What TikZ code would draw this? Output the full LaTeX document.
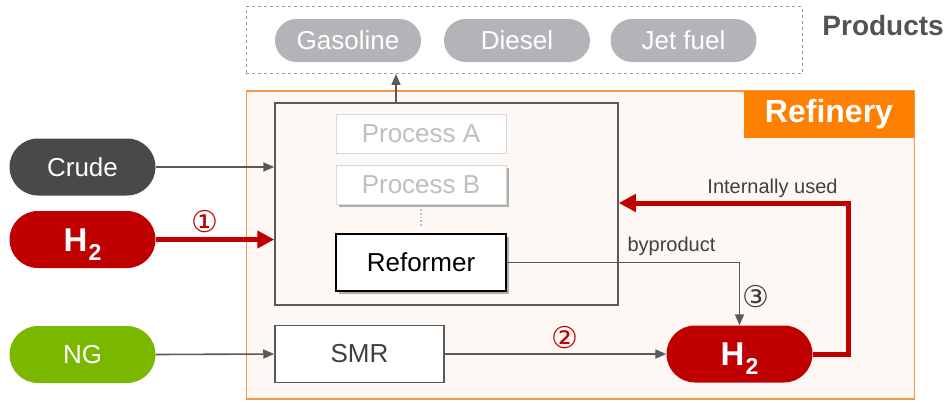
\documentclass[tikz,border=0pt]{standalone}
\usepackage{fontspec}
\setmainfont{Liberation Sans}
\newfontfamily\symfont{DejaVu Sans}
\usetikzlibrary{arrows.meta,shadows}
\definecolor{cream}{HTML}{FDF8F3}
\definecolor{orangeb}{HTML}{F79646}
\definecolor{orangel}{HTML}{FF7F00}
\definecolor{lineg}{HTML}{595959}
\definecolor{textg}{HTML}{404040}
\definecolor{crudec}{HTML}{48494B}
\definecolor{redc}{HTML}{C00000}
\definecolor{greenc}{HTML}{7AB800}
\definecolor{pillg}{HTML}{B3B4B7}
\definecolor{procg}{HTML}{D9D9D9}
\definecolor{proct}{HTML}{BFBFBF}
\newcommand{\Htwo}{\bfseries\fontsize{33}{36}\selectfont H\hspace{1pt}\raisebox{-9pt}{\fontsize{23}{24}\selectfont 2}}
\begin{document}
\begin{tikzpicture}[x=1pt,y=-1pt,
  pill/.style={rounded corners=28.5pt, minimum width=146pt, minimum height=57pt, inner sep=0pt, text=white, font=\fontsize{26}{30}\selectfont},
  prodpill/.style={fill=pillg, rounded corners=21.5pt, minimum width=146pt, minimum height=43pt, inner sep=0pt, text=white, font=\fontsize{26}{30}\selectfont},
  procbox/.style={draw=procg, fill=white, line width=1pt, minimum width=170pt, minimum height=39pt, inner sep=0pt, text=proct, font=\fontsize{26}{30}\selectfont},
  shad/.style={drop shadow={shadow xshift=2.5pt, shadow yshift=-2.5pt, opacity=0.3, fill=black}},
  arr/.style={draw=lineg, line width=1.6pt, -{Triangle[length=11pt,width=9pt]}},
  redarr/.style={draw=redc, line width=5pt, -{Triangle[length=17pt,width=17pt]}},
  lbl/.style={text=textg, font=\fontsize{20}{24}\selectfont, inner sep=0pt},
  num/.style={font=\symfont\fontsize{30}{32}\selectfont, inner sep=0pt}
]
\useasboundingbox (0,0) rectangle (948,402);
% refinery area
\node[draw=orangeb, fill=cream, line width=1.4pt, minimum width=668pt, minimum height=308pt, inner sep=0pt] (ref) at (580.5,245) {};
\node[fill=orangel, minimum width=170pt, minimum height=47pt, inner sep=0pt, text=white, font=\bfseries\fontsize{32}{36}\selectfont] (reflbl) at (829,114.5) {Refinery};
% products
\node[draw=gray!80, dashed, line width=0.9pt, minimum width=556pt, minimum height=67pt, inner sep=0pt] (prod) at (524,40) {};
\node[prodpill] (gas) at (348,40.5) {Gasoline};
\node[prodpill] (die) at (517,40.5) {Diesel};
\node[prodpill] (jet) at (683.5,40.5) {Jet fuel};
\node[text=textg!90, font=\bfseries\fontsize{28}{32}\selectfont, inner sep=0pt, anchor=east] (prodlbl) at (944,25) {Products};
% process box
\node[draw=lineg, fill=cream, line width=1.5pt, minimum width=343pt, minimum height=202pt, inner sep=0pt] (proc) at (446.5,204) {};
\node[procbox] (pa) at (421,133.5) {Process A};
\node[procbox, shad] (pb) at (421,185) {Process B};
\draw[draw=proct, line width=1.8pt, dotted] (pb.south) ++(0,4) coordinate (d1) -- (pa.south |- 0,227) coordinate (d2);
\node[procbox, draw=black, text=black, line width=1.4pt, minimum height=57pt, shad] (refm) at (421,262.5) {Reformer};
% SMR
\node[draw=lineg, fill=white, line width=1.5pt, minimum width=169pt, minimum height=57pt, inner sep=0pt, text=textg, font=\fontsize{26}{30}\selectfont] (smr) at (359.5,354) {SMR};
% inputs
\node[pill, fill=crudec] (crude) at (82.5,167) {Crude};
\node[pill, fill=redc] (h2l) at (82.5,239.5) {};
\node[text=white, inner sep=0pt, yshift=-5pt] (h2lt) at (h2l.center) {\Htwo};
\node[pill, fill=greenc] (ng) at (82.5,354.5) {NG};
% H2 right
\node[pill, fill=redc] (h2r) at (739.5,354) {};
\node[text=white, inner sep=0pt, yshift=-5pt] (h2rt) at (h2r.center) {\Htwo};
% connectors
\coordinate (upx) at (396,0);
\draw[arr] (proc.north -| upx) -- (prod.south -| upx);
\draw[arr] (crude.east) -- (proc.west |- crude.east);
\draw[redarr] (h2l.east) -- (proc.west |- h2l.east);
\draw[arr] (ng.east) -- (smr.west);
\draw[arr] (smr.east) -- (h2r.west);
\draw[arr] (refm.east) -| (h2r.north);
\coordinate (loop) at (848,203);
\draw[redarr] (h2r.east) -| (loop) -- (proc.east |- loop);
% labels
\node[num, text=redc] (n1) at (205,222) {①};
\node[num, text=redc] (n2) at (564.5,338) {②};
\node[num, text=textg] (n3) at (756,296.5) {③};
\node[lbl] (iu) at (772.5,188) {Internally used};
\node[lbl] (bp) at (671.5,246) {byproduct};
\end{tikzpicture}
\end{document}
